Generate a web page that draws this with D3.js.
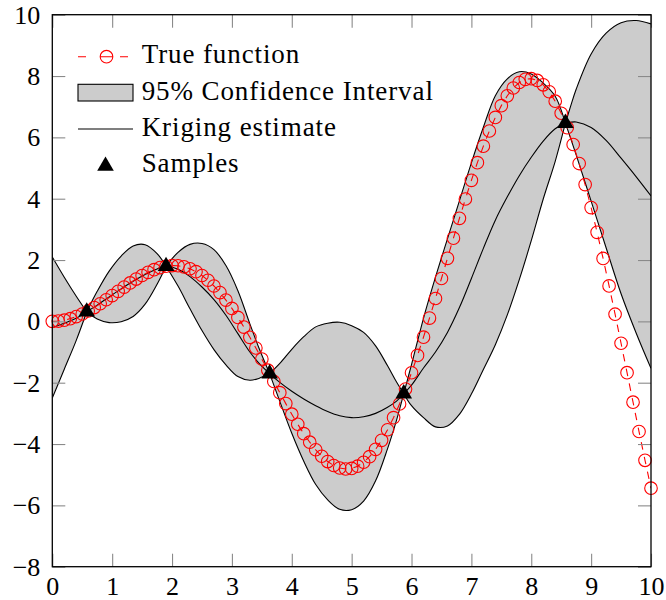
<!DOCTYPE html>
<html>
<head>
<meta charset="utf-8">
<script src="https://cdn.jsdelivr.net/npm/d3@7"></script>
<style>
  body { margin: 0; background: #fff; }
  svg { display: block; }
  text { font-family: "Liberation Serif", "Times New Roman", serif; }
</style>
</head>
<body>
<svg id="chart" width="666" height="600"></svg>
<script>
// ---- data ----
const trueX = [0, 0.1, 0.2, 0.3, 0.4, 0.5, 0.6, 0.7, 0.8, 0.9,
  1, 1.1, 1.2, 1.3, 1.4, 1.5, 1.6, 1.7, 1.8, 1.9,
  2, 2.1, 2.2, 2.3, 2.4, 2.5, 2.6, 2.7, 2.8, 2.9,
  3, 3.1, 3.2, 3.3, 3.4, 3.5, 3.6, 3.7, 3.8, 3.9,
  4, 4.1, 4.2, 4.3, 4.4, 4.5, 4.6, 4.7, 4.8, 4.9,
  5, 5.1, 5.2, 5.3, 5.4, 5.5, 5.6, 5.7, 5.8, 5.9,
  6, 6.1, 6.2, 6.3, 6.4, 6.5, 6.6, 6.7, 6.8, 6.9,
  7, 7.1, 7.2, 7.3, 7.4, 7.5, 7.6, 7.7, 7.8, 7.9,
  8, 8.1, 8.2, 8.3, 8.4, 8.5, 8.6, 8.7, 8.8, 8.9,
  9, 9.1, 9.2, 9.3, 9.4, 9.5, 9.6, 9.7, 9.8, 9.9, 10];
const trueY = [0, 0.010, 0.040, 0.089, 0.156, 0.240, 0.339, 0.451, 0.574, 0.705,
  0.841, 0.980, 1.118, 1.253, 1.380, 1.496, 1.599, 1.686, 1.753, 1.798,
  1.819, 1.813, 1.779, 1.715, 1.621, 1.496, 1.340, 1.154, 0.938, 0.694,
  0.423, 0.129, -0.187, -0.521, -0.869, -1.228, -1.593, -1.960, -2.325, -2.682,
  -3.027, -3.355, -3.661, -3.940, -4.187, -4.399, -4.571, -4.700, -4.782, -4.814,
  -4.795, -4.722, -4.594, -4.411, -4.173, -3.880, -3.535, -3.139, -2.695, -2.206,
  -1.676, -1.111, -0.515, 0.106, 0.746, 1.398, 2.056, 2.713, 3.360, 3.991,
  4.599, 5.176, 5.714, 6.208, 6.650, 7.035, 7.356, 7.609, 7.789, 7.892,
  7.915, 7.856, 7.714, 7.488, 7.179, 6.787, 6.316, 5.768, 5.147, 4.459,
  3.709, 2.904, 2.051, 1.157, 0.233, -0.714, -1.674, -2.636, -3.592, -4.530, -5.440];

const sampleX = [0.575, 1.9, 3.63, 5.87, 8.57];
const sampleY = [0.313, 1.798, -1.703, -2.357, 6.464];

const gridX = [0, 0.2, 0.4, 0.575,
  0.75, 0.95, 1.15, 1.35, 1.55, 1.75, 1.9,
  2.1, 2.3, 2.5, 2.7, 2.9, 3.1, 3.3, 3.45, 3.63,
  3.8, 4.0, 4.2, 4.4, 4.6, 4.8, 5.0, 5.2, 5.4, 5.6, 5.75, 5.87,
  6.0, 6.2, 6.4, 6.6, 6.8, 7.0, 7.2, 7.4, 7.6, 7.8, 8.0, 8.2, 8.4, 8.57,
  8.65, 8.75, 9.0, 9.25, 9.5, 9.75, 10];
const meanY = [-0.20, -0.06, 0.10, 0.313,
  0.53, 0.80, 1.06, 1.31, 1.53, 1.71, 1.798,
  1.70, 1.46, 1.12, 0.71, 0.20, -0.40, -1.00, -1.36, -1.703,
  -1.99, -2.28, -2.53, -2.75, -2.94, -3.08, -3.14, -3.11, -3.00, -2.80, -2.60, -2.357,
  -2.08, -1.52, -1.00, -0.36, 0.45, 1.40, 2.38, 3.30, 4.06, 4.75, 5.35, 5.88, 6.28, 6.464,
  6.49, 6.50, 6.32, 5.90, 5.32, 4.72, 4.09];
const upperY = [2.10, 1.44, 0.82, 0.313,
  0.98, 1.64, 2.13, 2.46, 2.50, 2.21, 1.798,
  2.25, 2.51, 2.54, 2.34, 1.82, 1.00, -0.08, -0.86, -1.703,
  -1.37, -0.91, -0.50, -0.18, -0.06, -0.03, -0.14, -0.36, -0.80, -1.45, -1.98, -2.357,
  -1.41, 0.10, 1.44, 2.69, 3.93, 5.17, 6.33, 7.36, 7.91, 8.14, 8.07, 7.77, 7.34, 6.464,
  6.97, 7.57, 8.72, 9.40, 9.74, 9.81, 9.70];
const lowerY = [-2.50, -1.56, -0.62, 0.313,
  0.08, -0.04, -0.01, 0.16, 0.56, 1.21, 1.798,
  1.15, 0.41, -0.30, -0.92, -1.42, -1.80, -1.92, -1.86, -1.703,
  -2.61, -3.65, -4.56, -5.32, -5.82, -6.13, -6.14, -5.86, -5.20, -4.15, -3.22, -2.357,
  -2.75, -3.14, -3.44, -3.41, -3.03, -2.37, -1.57, -0.76, 0.21, 1.36, 2.63, 3.99, 5.22, 6.464,
  6.01, 5.43, 3.92, 2.40, 0.90, -0.37, -1.53];

const xTicks = [0, 1, 2, 3, 4, 5, 6, 7, 8, 9, 10];
const yTicks = [-8, -6, -4, -2, 0, 2, 4, 6, 8, 10];
const legendLabels = ["True function", "95% Confidence Interval", "Kriging estimate", "Samples"];

// ---- layout ----
const svg = d3.select("#chart");
const L = 52.3, R = 651, T = 14.7, B = 566.7;
const x = d3.scaleLinear().domain([0, 10]).range([L, R]);
const y = d3.scaleLinear().domain([-8, 10]).range([B, T]);

svg.append("defs").append("clipPath").attr("id", "plotClip")
  .append("rect").attr("x", L).attr("y", T).attr("width", R - L).attr("height", B - T);

const plot = svg.append("g").attr("clip-path", "url(#plotClip)");
const curve = d3.curveCatmullRom.alpha(0.5);

// confidence band, drawn piecewise between samples so the pinch points stay sharp
const knots = [0, ...sampleX, 10];
const bandArea = d3.area().curve(curve)
  .x(d => x(d.x)).y0(d => y(d.l)).y1(d => y(d.u));
const upperLine = d3.line().curve(curve).x(d => x(d.x)).y(d => y(d.u));
const lowerLine = d3.line().curve(curve).x(d => x(d.x)).y(d => y(d.l));

const pieces = [];
for (let s = 0; s < knots.length - 1; s++) {
  const pts = [];
  gridX.forEach((gx, i) => {
    if (gx >= knots[s] - 1e-9 && gx <= knots[s + 1] + 1e-9)
      pts.push({ x: gx, u: upperY[i], l: lowerY[i] });
  });
  pieces.push(pts);
}
plot.selectAll("path.band").data(pieces).join("path")
  .attr("class", "band").attr("d", bandArea)
  .attr("fill", "#cccccc").attr("stroke", "none");
plot.selectAll("path.bandUpper").data(pieces).join("path")
  .attr("class", "bandUpper").attr("d", upperLine)
  .attr("fill", "none").attr("stroke", "#000").attr("stroke-width", 1.1);
plot.selectAll("path.bandLower").data(pieces).join("path")
  .attr("class", "bandLower").attr("d", lowerLine)
  .attr("fill", "none").attr("stroke", "#000").attr("stroke-width", 1.1);

// kriging estimate
const meanPts = gridX.map((gx, i) => [gx, meanY[i]]);
plot.append("path").datum(meanPts)
  .attr("d", d3.line().curve(curve).x(d => x(d[0])).y(d => y(d[1])))
  .attr("fill", "none").attr("stroke", "#000").attr("stroke-width", 1.1);

// true function: dashed red line with open circle marks
const truePts = trueX.map((tx, i) => [tx, trueY[i]]);
plot.append("path").datum(truePts)
  .attr("d", d3.line().x(d => x(d[0])).y(d => y(d[1])))
  .attr("fill", "none").attr("stroke", "#ff0000").attr("stroke-width", 1.1)
  .attr("stroke-dasharray", "7.5 7.5");
svg.append("g").selectAll("circle").data(truePts).join("circle")
  .attr("cx", d => x(d[0])).attr("cy", d => y(d[1])).attr("r", 6.3)
  .attr("fill", "none").attr("stroke", "#ff0000").attr("stroke-width", 1.1);

// samples
const tri = "M0,-9.6L8.3,4.8L-8.3,4.8Z";
svg.append("g").selectAll("path").data(sampleX.map((sx, i) => [sx, sampleY[i]])).join("path")
  .attr("d", tri).attr("transform", d => `translate(${x(d[0])},${y(d[1])})`)
  .attr("fill", "#000");

// ---- axes ----
function styleAxis(g) {
  g.select(".domain").remove();
  g.selectAll(".tick line").attr("stroke", "#8a8a8a").attr("stroke-width", 1.1);
  g.selectAll(".tick text").attr("fill", "#000")
    .style("font-family", '"Liberation Serif", "Times New Roman", serif')
    .style("font-size", "26px");
}
const fmt = d3.format("d");
svg.append("g").attr("transform", `translate(0,${B})`)
  .call(d3.axisBottom(x).tickValues(xTicks).tickFormat(fmt).tickSize(-13).tickPadding(10))
  .call(styleAxis);
svg.append("g").attr("transform", `translate(0,${T})`)
  .call(d3.axisTop(x).tickValues(xTicks).tickFormat("").tickSize(-13))
  .call(styleAxis);
svg.append("g").attr("transform", `translate(${L},0)`)
  .call(d3.axisLeft(y).tickValues(yTicks).tickFormat(fmt).tickSize(-13).tickPadding(12))
  .call(styleAxis);
svg.append("g").attr("transform", `translate(${R},0)`)
  .call(d3.axisRight(y).tickValues(yTicks).tickFormat("").tickSize(-13))
  .call(styleAxis);

svg.append("rect").attr("x", L).attr("y", T).attr("width", R - L).attr("height", B - T)
  .attr("fill", "none").attr("stroke", "#000").attr("stroke-width", 1.3);

// ---- legend ----
const lg = svg.append("g");
const rowY = [56.7, 92.7, 129, 164];
const textBase = [63.3, 100, 136, 171.7];
const textX = 141.7;

lg.append("path")
  .attr("d", `M78,${rowY[0]}H86M100,${rowY[0]}H113M120,${rowY[0]}H128`)
  .attr("stroke", "#ff0000").attr("stroke-width", 1.1).attr("fill", "none");
lg.append("circle").attr("cx", 106.5).attr("cy", rowY[0]).attr("r", 6.3)
  .attr("fill", "none").attr("stroke", "#ff0000").attr("stroke-width", 1.1);
lg.append("rect").attr("x", 78).attr("y", 84.3).attr("width", 55).attr("height", 16.7)
  .attr("fill", "#cccccc").attr("stroke", "#000").attr("stroke-width", 1.1);
lg.append("line").attr("x1", 78).attr("x2", 133).attr("y1", rowY[2]).attr("y2", rowY[2])
  .attr("stroke", "#000").attr("stroke-width", 1.1);
lg.append("path").attr("d", tri).attr("transform", `translate(105.5,${rowY[3] + 2})`).attr("fill", "#000");

lg.selectAll("text").data(legendLabels).join("text")
  .attr("x", textX).attr("y", (d, i) => textBase[i])
  .style("font-size", "27px").style("letter-spacing", "0.9px")
  .attr("fill", "#000").text(d => d);
</script>
</body>
</html>
